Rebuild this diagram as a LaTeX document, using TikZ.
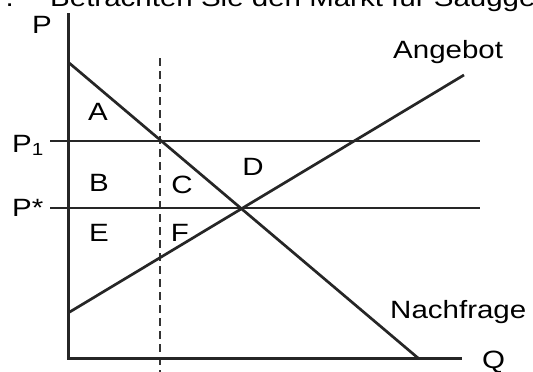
\documentclass[tikz,border=0pt]{standalone}
\usepackage{fontspec}
\setmainfont{Liberation Sans}
\newcommand\wt[1]{\scalebox{1.18}[1]{#1}}
\begin{document}
\begin{tikzpicture}[x=1pt,y=-1pt,
  ln/.style={line width=2.7pt,black!85},
  lbl/.style={inner sep=0pt,font=\fontsize{25}{25}\selectfont},
  dsh/.style={line width=2pt,black!80,dash pattern=on 8pt off 5pt}]
\useasboundingbox (0,0) rectangle (533,372);
\clip (0,0) rectangle (533,372);
% header (cut off, as in the reference)
\node[lbl,anchor=base west] (hdr) at (50,6) {\wt{Betrachten Sie den Markt für Sauggeräte}};
\node[lbl,anchor=base east] (num) at (14,6) {\wt{.}};
% coordinates
\coordinate (ytop) at (68,13);
\coordinate (orig) at (68,358);
\coordinate (xend) at (462,358);
\coordinate (d0) at (68,62);
\coordinate (d1) at (418,358);
\coordinate (s0) at (68,313);
\coordinate (s1) at (464,75);
\coordinate (p1a) at (50,141);
\coordinate (p1b) at (480,141);
\coordinate (psa) at (50,208);
\coordinate (psb) at (480,208);
\coordinate (qa) at (160,58);
\coordinate (qb) at (160,372);
% dashed
\draw[dsh] (qa) -- (qb);
% axes
\draw[ln,line width=3pt] (ytop) -- (orig) -- (xend);
% price lines
\draw[ln] (p1a) -- (p1b);
\draw[ln] (psa) -- (psb);
% curves
\draw[ln] (d0) -- (d1);
\draw[ln] (s0) -- (s1);
% labels
\node[lbl,anchor=base west] (P) at (32,34) {\wt{P}};
\node[lbl,anchor=base west] (Q) at (482,368) {\wt{Q}};
\node[lbl,anchor=base west] (P1) at (12,152) {\wt{P\textsubscript{1}}};
\node[lbl,anchor=base west] (Ps) at (12,216) {\wt{P*}};
\node[lbl,anchor=base west] (ang) at (393,58) {\wt{Angebot}};
\node[lbl,anchor=base west] (nach) at (390,318) {\wt{Nachfrage}};
\node[lbl] (A) at (98,112) {\wt{A}};
\node[lbl] (B) at (99,183) {\wt{B}};
\node[lbl] (C) at (182,185) {\wt{C}};
\node[lbl] (D) at (253,167) {\wt{D}};
\node[lbl] (E) at (99,233) {\wt{E}};
\node[lbl] (F) at (180,233) {\wt{F}};
\end{tikzpicture}
\end{document}
